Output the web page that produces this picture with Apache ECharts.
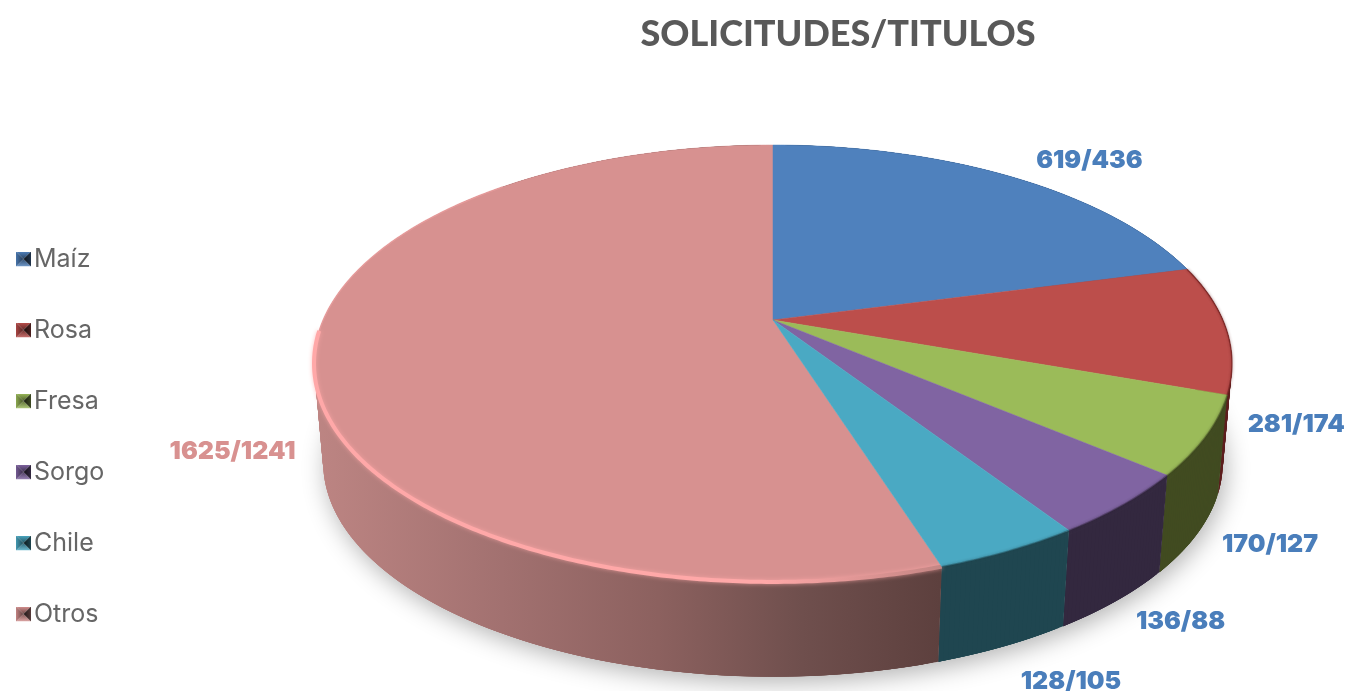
<!DOCTYPE html>
<html>
<head>
<meta charset="utf-8">
<style>html,body{margin:0;padding:0;background:#fff}#c{width:1352px;height:691px}</style>
<script src="https://cdn.jsdelivr.net/npm/echarts@6/dist/echarts.min.js"></script>
</head>
<body>
<div id="c"></div>
<script>
const categories = ['Maíz', 'Rosa', 'Fresa', 'Sorgo', 'Chile', 'Otros'];
const solicitudes = [619, 281, 170, 136, 128, 1625];
const titulos = [436, 174, 127, 88, 105, 1241];

const topColors = ['#4f81bd', '#bc4e4b', '#9bbb59', '#8064a2', '#4aa9c3', '#d79190'];
const sideColors = ['#2f4d71', '#5e1f1f', '#414b20', '#33283f', '#1f4650', null];
const rimColors = ['#2f4d71', '#5e1515', '#39421c', '#2c2237', '#1b3f48', '#ffa8a8'];
const labelColors = ['#4a7ebb', '#4a7ebb', '#4a7ebb', '#4a7ebb', '#4a7ebb', '#d89190'];
const labelOffsets = [[79, -16], [70, 96], [64, 109], [57, 117], [62, 131], [-82, 98]];

// Perspective view of the disc
const GEO = { cx: 773, cy: 320, a: 449.8, b: 209.8, k: 0.199, depth: 100, floor: 0.98 };

const total = solicitudes.reduce((s, v) => s + v, 0);
const starts = [];
solicitudes.reduce((s, v, i) => { starts[i] = s; return s + v; }, 0);
const toAngle = v => v / total * Math.PI * 2;

function project(theta, lower) {
  const u = Math.sin(theta), v = -Math.cos(theta), w = 1 - GEO.k * v;
  const s = lower ? GEO.floor : 1;
  return [GEO.cx + s * GEO.a * u / w, GEO.cy + (lower ? GEO.depth : 0) + s * GEO.b * v / w];
}
function arc(t0, t1, lower) {
  const n = Math.max(2, Math.ceil((t1 - t0) / 0.01));
  const pts = [];
  for (let i = 0; i <= n; i++) pts.push(project(t0 + (t1 - t0) * i / n, lower));
  return pts;
}
const range = i => [toAngle(starts[i]), toAngle(starts[i] + solicitudes[i])];

function bevelIcon(color) {
  const mix = (c, f) => {
    const n = parseInt(c.slice(1), 16), t = f < 0 ? 0 : 255, p = Math.abs(f);
    const ch = s => Math.round(((n >> s) & 255) * (1 - p) + t * p);
    return `rgb(${ch(16)},${ch(8)},${ch(0)})`;
  };
  const svg = `<svg xmlns="http://www.w3.org/2000/svg" width="30" height="30" viewBox="0 0 30 30">` +
    `<defs><linearGradient id="l" x1="0" x2="1" y1="0" y2="0"><stop offset="0" stop-color="${mix(color, -0.1)}"/><stop offset="1" stop-color="${mix(color, -0.55)}"/></linearGradient>` +
    `<linearGradient id="r" x1="0" x2="1" y1="0" y2="0"><stop offset="0" stop-color="${mix(color, -0.85)}"/><stop offset="1" stop-color="${mix(color, -0.6)}"/></linearGradient>` +
    `<linearGradient id="t" x1="0" x2="0" y1="0" y2="1"><stop offset="0" stop-color="${mix(color, 0)}"/><stop offset="1" stop-color="${mix(color, -0.5)}"/></linearGradient>` +
    `<linearGradient id="b" x1="0" x2="0" y1="0" y2="1"><stop offset="0" stop-color="${mix(color, -0.4)}"/><stop offset="1" stop-color="${mix(color, 0.2)}"/></linearGradient></defs>` +
    `<path d="M0 0H30L15 15Z" fill="url(#t)"/><path d="M0 30H30L15 15Z" fill="url(#b)"/>` +
    `<path d="M0 0V30L15 15Z" fill="url(#l)"/><path d="M30 0V30L15 15Z" fill="url(#r)"/></svg>`;
  return 'image://data:image/svg+xml;charset=utf-8,' + encodeURIComponent(svg);
}

const otrosWall = {
  type: 'linear', global: true, x: 314, y: 0, x2: 940, y2: 0,
  colorStops: [
    { offset: 0, color: '#bd8583' }, { offset: 0.3, color: '#a27170' },
    { offset: 0.55, color: '#8c615f' }, { offset: 0.78, color: '#6f4f4d' },
    { offset: 1, color: '#5d403e' }
  ]
};

const shadowSeries = {
  type: 'custom', name: 'sombra', coordinateSystem: 'none', silent: true, z: 1,
  data: [total],
  renderItem: () => ({
    type: 'polygon', silent: true,
    shape: { points: arc(0, Math.PI * 2, true) },
    style: { fill: '#ffffff', shadowBlur: 24, shadowColor: 'rgba(0,0,0,0.3)', shadowOffsetX: 3, shadowOffsetY: 6 }
  })
};

const sideSeries = {
  type: 'custom', name: 'lados', coordinateSystem: 'none', silent: true, z: 2,
  data: [total],
  renderItem: () => {
    const children = [];
    categories.forEach((_, i) => {
      const [t0, t1] = range(i);
      const upper = arc(t0, t1, false), lower = arc(t0, t1, true);
      const fill = sideColors[i] || otrosWall;
      const last = upper.length - 1;
      for (let j = 0; j < last; j++) {
        const k = Math.min(j + 4, last);
        children.push({
          type: 'polygon',
          shape: { points: [upper[j], upper[k], lower[k], lower[j]] },
          style: { fill }
        });
      }
    });
    return { type: 'group', children };
  }
};

const faceSeries = categories.map((name, i) => ({
  type: 'custom', name, coordinateSystem: 'none', silent: true, z: 3 + (i === 5 ? 0 : 1),
  itemStyle: { color: topColors[i] },
  data: [solicitudes[i]],
  renderItem: () => {
    const [t0, t1] = range(i);
    const rim = arc(t0, t1, false);
    const children = [
      { type: 'polygon', z2: 1, shape: { points: [[GEO.cx, GEO.cy]].concat(rim) }, style: { fill: topColors[i], stroke: topColors[i], lineWidth: 0.5 } }
    ];
    if (i === 5) {
      children.push({
        type: 'polyline', z2: 2, shape: { points: arc(t0 + (t1 - t0) * 0.5, t0 + (t1 - t0) * 0.78, false) },
        style: { fill: 'none', lineWidth: 1.5, stroke: '#eca0a0', opacity: 0.7 }
      });
      children.push({
        type: 'polyline', z2: 3, shape: { points: arc(t0, t0 + (t1 - t0) * 0.53, false) },
        style: {
          fill: 'none', lineWidth: 4, shadowBlur: 4, shadowColor: 'rgba(255,168,168,0.7)',
          stroke: { type: 'linear', global: true, x: 314, y: 0, x2: 940, y2: 0, colorStops: [
            { offset: 0, color: '#ffa8a8' }, { offset: 0.72, color: '#ffa8a8' }, { offset: 1, color: '#c48684' }
          ] }
        }
      });
    } else if (i > 0) {
      children.push({
        type: 'polyline', z2: 2, shape: { points: rim },
        style: { fill: 'none', stroke: rimColors[i], lineWidth: 1.5, opacity: 0.45, shadowBlur: 3, shadowColor: rimColors[i] }
      });
    }
    return { type: 'group', children };
  }
}));

const labelSeries = {
  type: 'custom', name: 'etiquetas', coordinateSystem: 'none', silent: true, z: 6,
  data: [total],
  renderItem: () => ({
    type: 'group',
    children: categories.map((_, i) => {
      const [t0, t1] = range(i);
      const p = project((t0 + t1) / 2, false);
      return {
        type: 'text',
        style: {
          text: solicitudes[i] + '/' + titulos[i],
          x: p[0] + labelOffsets[i][0], y: p[1] + labelOffsets[i][1],
          fill: labelColors[i], font: '900 25px Inter', align: 'center', verticalAlign: 'middle'
        }
      };
    })
  })
};

const chart = echarts.init(document.getElementById('c'), null, { renderer: 'canvas' });
chart.setOption({
  backgroundColor: '#ffffff',
  animation: false,
  title: {
    text: 'SOLICITUDES/TITULOS', left: 833, top: 11, textAlign: 'center',
    textStyle: { fontFamily: 'Lato', fontWeight: 900, fontSize: 36, color: '#595959' }
  },
  legend: {
    orient: 'vertical', left: 11, top: 240, padding: 5, itemWidth: 15, itemHeight: 15, itemGap: 43, selectedMode: false,
    textStyle: { fontFamily: 'Inter', fontWeight: 400, fontSize: 25, color: '#666666', lineHeight: 28, height: 28, padding: [0, 0, 0, -2] },
    data: categories.map((name, i) => ({ name, icon: bevelIcon(topColors[i]) }))
  },
  series: [shadowSeries, sideSeries].concat(faceSeries, [labelSeries])
});
</script>
</body>
</html>
